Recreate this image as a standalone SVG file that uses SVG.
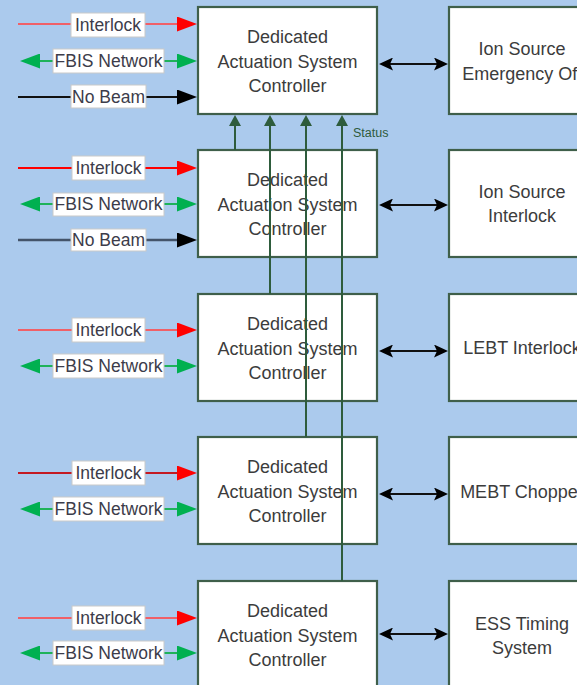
<svg xmlns="http://www.w3.org/2000/svg" width="577" height="685" viewBox="0 0 577 685">
  <style>
    .bg { fill: #abcaed; }
    .box { fill: #ffffff; stroke: #3f5f4a; stroke-width: 2.2; }
    .txt { font-family: "Liberation Sans", Arial, sans-serif; font-size: 18px; fill: #3c3c3c; text-anchor: middle; }
    .lbl-box { fill: #ffffff; stroke: #c9c9c9; stroke-width: 1; }
    .lbl { font-family: "Liberation Sans", Arial, sans-serif; font-size: 17.5px; fill: #3c3c4a; text-anchor: middle; }
    .status-lbl { font-family: "Liberation Sans", Arial, sans-serif; font-size: 12.5px; fill: #2e5a3c; }
    .w { fill: none; stroke-width: 2; }
    .ilk { stroke: #f06068; }
    .ilk2 { stroke: #ff0000; }
    .ilk4 { stroke: #c41a22; }
    .fbis { stroke: #1fb25a; }
    .nb { stroke: #111111; }
    .nb2 { stroke: #44546a; stroke-width: 2.6; }
    .link { stroke: #111111; }
    .stat { stroke: #2e5c3c; }
  </style>
  <defs>
    <marker id="ah-red" markerUnits="userSpaceOnUse" markerWidth="20" markerHeight="15" refX="14" refY="7.5" orient="auto-start-reverse">
      <path d="M0,0 L20,7.5 L0,15 z" fill="#ff0000"/>
    </marker>
    <marker id="ah-green" markerUnits="userSpaceOnUse" markerWidth="20" markerHeight="15" refX="14" refY="7.5" orient="auto-start-reverse">
      <path d="M0,0 L20,7.5 L0,15 z" fill="#00b050"/>
    </marker>
    <marker id="ah-black" markerUnits="userSpaceOnUse" markerWidth="20" markerHeight="15" refX="14" refY="7.5" orient="auto-start-reverse">
      <path d="M0,0 L20,7.5 L0,15 z" fill="#000000"/>
    </marker>
    <marker id="ah-link" markerUnits="userSpaceOnUse" markerWidth="14" markerHeight="13" refX="9" refY="6.5" orient="auto-start-reverse">
      <path d="M0,0 L14,6.5 L0,13 L3,6.5 z" fill="#000000"/>
    </marker>
    <marker id="ah-status" markerUnits="userSpaceOnUse" markerWidth="11" markerHeight="12" refX="6" refY="6" orient="auto-start-reverse">
      <path d="M0,0 L11,6 L0,12 z" fill="#2e5c3c"/>
    </marker>
  </defs>

  <rect class="bg" x="0" y="0" width="577" height="685"/>

  <!-- controllers -->
  <g id="dasc-1">
    <rect class="box" x="198" y="7" width="179" height="107"/>
    <text class="txt" x="287.5" y="43">Dedicated</text>
    <text class="txt" x="287.5" y="68">Actuation System</text>
    <text class="txt" x="287.5" y="92">Controller</text>
  </g>
  <g id="dasc-2">
    <rect class="box" x="198" y="150" width="179" height="107"/>
    <text class="txt" x="287.5" y="186">Dedicated</text>
    <text class="txt" x="287.5" y="211">Actuation System</text>
    <text class="txt" x="287.5" y="235">Controller</text>
  </g>
  <g id="dasc-3">
    <rect class="box" x="198" y="294" width="179" height="107"/>
    <text class="txt" x="287.5" y="330">Dedicated</text>
    <text class="txt" x="287.5" y="355">Actuation System</text>
    <text class="txt" x="287.5" y="379">Controller</text>
  </g>
  <g id="dasc-4">
    <rect class="box" x="198" y="437" width="179" height="107"/>
    <text class="txt" x="287.5" y="473">Dedicated</text>
    <text class="txt" x="287.5" y="498">Actuation System</text>
    <text class="txt" x="287.5" y="522">Controller</text>
  </g>
  <g id="dasc-5">
    <rect class="box" x="198" y="581" width="179" height="107"/>
    <text class="txt" x="287.5" y="617">Dedicated</text>
    <text class="txt" x="287.5" y="642">Actuation System</text>
    <text class="txt" x="287.5" y="666">Controller</text>
  </g>

  <!-- actuated systems -->
  <g id="ion-source-emergency-off">
    <rect class="box" x="449" y="7" width="190" height="107"/>
    <text class="txt" x="522" y="55">Ion Source</text>
    <text class="txt" x="522" y="80">Emergency Off</text>
  </g>
  <g id="ion-source-interlock">
    <rect class="box" x="449" y="150" width="190" height="107"/>
    <text class="txt" x="522" y="198">Ion Source</text>
    <text class="txt" x="522" y="222">Interlock</text>
  </g>
  <g id="lebt-interlock">
    <rect class="box" x="449" y="294" width="190" height="107"/>
    <text class="txt" x="522" y="354">LEBT Interlock</text>
  </g>
  <g id="mebt-chopper">
    <rect class="box" x="449" y="437" width="190" height="107"/>
    <text class="txt" x="522" y="498">MEBT Chopper</text>
  </g>
  <g id="ess-timing-system">
    <rect class="box" x="449" y="581" width="190" height="107"/>
    <text class="txt" x="522" y="630">ESS Timing</text>
    <text class="txt" x="522" y="654">System</text>
  </g>

  <g id="connectors">
    <!-- controller to actuated system links -->
    <line class="w link" x1="384" y1="64" x2="443" y2="64" marker-start="url(#ah-link)" marker-end="url(#ah-link)"/>
    <line class="w link" x1="384" y1="205" x2="443" y2="205" marker-start="url(#ah-link)" marker-end="url(#ah-link)"/>
    <line class="w link" x1="384" y1="351" x2="443" y2="351" marker-start="url(#ah-link)" marker-end="url(#ah-link)"/>
    <line class="w link" x1="384" y1="494" x2="443" y2="494" marker-start="url(#ah-link)" marker-end="url(#ah-link)"/>
    <line class="w link" x1="384" y1="634" x2="443" y2="634" marker-start="url(#ah-link)" marker-end="url(#ah-link)"/>

    <!-- status lines up to the first controller -->
    <line class="w stat" x1="235" y1="150" x2="235" y2="120" marker-end="url(#ah-status)"/>
    <line class="w stat" x1="270" y1="294" x2="270" y2="120" marker-end="url(#ah-status)"/>
    <line class="w stat" x1="306" y1="437" x2="306" y2="120" marker-end="url(#ah-status)"/>
    <line class="w stat" x1="342" y1="581" x2="342" y2="120" marker-end="url(#ah-status)"/>
    <text class="status-lbl" x="353" y="137">Status</text>

    <!-- row 1 inputs -->
    <line class="w ilk" x1="18" y1="24" x2="191" y2="24" marker-end="url(#ah-red)"/>
    <rect class="lbl-box" x="71" y="13" width="74" height="24"/>
    <text class="lbl" x="108" y="31">Interlock</text>
    <line class="w fbis" x1="26" y1="61" x2="191" y2="61" marker-start="url(#ah-green)" marker-end="url(#ah-green)"/>
    <rect class="lbl-box" x="53" y="49" width="111" height="24"/>
    <text class="lbl" x="108.5" y="67">FBIS Network</text>
    <line class="w nb" x1="18" y1="97" x2="191" y2="97" marker-end="url(#ah-black)"/>
    <rect class="lbl-box" x="71" y="85" width="75" height="23"/>
    <text class="lbl" x="108.5" y="103">No Beam</text>

    <!-- row 2 inputs -->
    <line class="w ilk2" x1="18" y1="168" x2="191" y2="168" marker-end="url(#ah-red)"/>
    <rect class="lbl-box" x="72" y="156" width="73" height="24"/>
    <text class="lbl" x="108.5" y="174">Interlock</text>
    <line class="w fbis" x1="26" y1="204" x2="191" y2="204" marker-start="url(#ah-green)" marker-end="url(#ah-green)"/>
    <rect class="lbl-box" x="53" y="193" width="111" height="23"/>
    <text class="lbl" x="108.5" y="210">FBIS Network</text>
    <line class="w nb2" x1="18" y1="240" x2="191" y2="240" marker-end="url(#ah-black)"/>
    <rect class="lbl-box" x="71" y="229" width="75" height="22"/>
    <text class="lbl" x="108.5" y="246">No Beam</text>

    <!-- row 3 inputs -->
    <line class="w ilk" x1="18" y1="330" x2="191" y2="330" marker-end="url(#ah-red)"/>
    <rect class="lbl-box" x="72" y="318" width="73" height="24"/>
    <text class="lbl" x="108.5" y="336">Interlock</text>
    <line class="w fbis" x1="26" y1="366" x2="191" y2="366" marker-start="url(#ah-green)" marker-end="url(#ah-green)"/>
    <rect class="lbl-box" x="53" y="354" width="111" height="24"/>
    <text class="lbl" x="108.5" y="372">FBIS Network</text>

    <!-- row 4 inputs -->
    <line class="w ilk4" x1="18" y1="473" x2="191" y2="473" marker-end="url(#ah-red)"/>
    <rect class="lbl-box" x="72" y="461" width="73" height="24"/>
    <text class="lbl" x="108.5" y="479">Interlock</text>
    <line class="w fbis" x1="26" y1="509" x2="191" y2="509" marker-start="url(#ah-green)" marker-end="url(#ah-green)"/>
    <rect class="lbl-box" x="53" y="497" width="111" height="24"/>
    <text class="lbl" x="108.5" y="515">FBIS Network</text>

    <!-- row 5 inputs -->
    <line class="w ilk" x1="18" y1="618" x2="191" y2="618" marker-end="url(#ah-red)"/>
    <rect class="lbl-box" x="72" y="606" width="73" height="24"/>
    <text class="lbl" x="108.5" y="624">Interlock</text>
    <line class="w fbis" x1="26" y1="653" x2="191" y2="653" marker-start="url(#ah-green)" marker-end="url(#ah-green)"/>
    <rect class="lbl-box" x="53" y="641" width="111" height="24"/>
    <text class="lbl" x="108.5" y="659">FBIS Network</text>
  </g>
</svg>
